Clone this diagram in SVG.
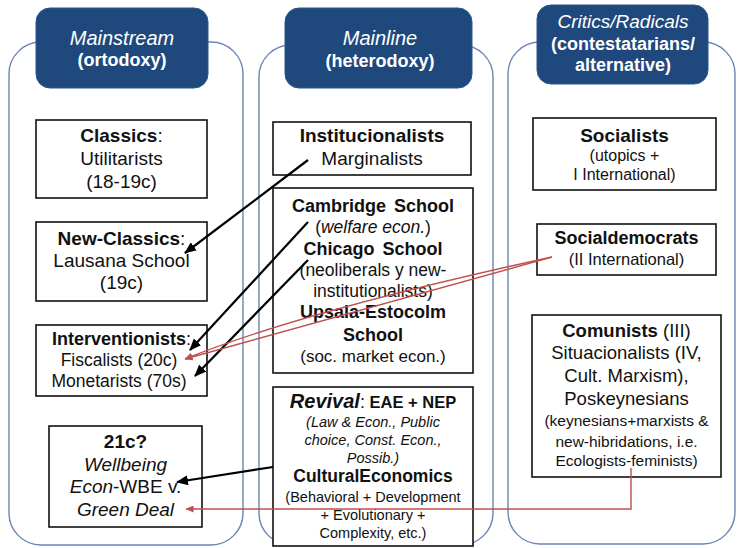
<svg xmlns="http://www.w3.org/2000/svg" width="737" height="548" viewBox="0 0 737 548">
<style>
text{font-family:"Liberation Sans",Arial,sans-serif;fill:#111;text-anchor:middle}
.col{fill:#fff;stroke:#6a86b3;stroke-width:1.4}
.hdr{fill:#1f497d;stroke:#2c5689;stroke-width:1}
.ht{fill:#fff}
.box{fill:#fff;stroke:#111;stroke-width:1.6}
.b{font-weight:bold}
.i{font-style:italic}
.blk{stroke:#000;stroke-width:2.2;fill:none;marker-end:url(#ah)}
.red{stroke:#c0504d;stroke-width:1.4;fill:none;marker-end:url(#ahr)}
</style>
<defs>
<marker id="ah" markerUnits="userSpaceOnUse" viewBox="0 0 12 10" markerWidth="12" markerHeight="10" refX="11" refY="5" orient="auto"><path d="M0,0 L12,5 L0,10 z" fill="#000"/></marker>
<marker id="ahr" markerUnits="userSpaceOnUse" viewBox="0 0 8 7" markerWidth="8" markerHeight="7" refX="7.5" refY="3.5" orient="auto"><path d="M0,0 L8,3.5 L0,7 z" fill="#c0504d"/></marker>
</defs>
<rect width="737" height="548" fill="#fff"/>
<g id="columns">
<rect class="col" x="9" y="42" width="234" height="503" rx="32"/>
<rect class="col" x="259" y="45" width="234" height="500" rx="32"/>
<rect class="col" x="508" y="42" width="227" height="502" rx="32"/>
</g>
<g id="hdr-mainstream">
<rect class="hdr" x="36" y="8" width="172" height="80" rx="14"/>
<text class="ht i" x="122" y="45" font-size="20">Mainstream</text>
<text class="ht b" x="122" y="66" font-size="18">(ortodoxy)</text>
</g>
<g id="hdr-mainline">
<rect class="hdr" x="285" y="8" width="187" height="80" rx="14"/>
<text class="ht i" x="380" y="45" font-size="20">Mainline</text>
<text class="ht b" x="380" y="67" font-size="18">(heterodoxy)</text>
</g>
<g id="hdr-critics">
<rect class="hdr" x="537" y="5" width="171" height="79" rx="14"/>
<text class="ht i" x="623" y="28" font-size="19">Critics/Radicals</text>
<text class="ht b" x="623" y="50" font-size="18">(contestatarians/</text>
<text class="ht b" x="623" y="71" font-size="18">alternative)</text>
</g>
<g id="classics">
<rect class="box" x="36" y="120" width="171" height="78"/>
<text x="121.5" y="142" font-size="19"><tspan class="b">Classics</tspan>:</text>
<text x="121.5" y="165" font-size="19">Utilitarists</text>
<text x="121.5" y="188" font-size="19">(18-19c)</text>
</g>
<g id="newclassics">
<rect class="box" x="36" y="222" width="171" height="79"/>
<text x="121.5" y="245" font-size="19"><tspan class="b">New-Classics</tspan>:</text>
<text x="121.5" y="267" font-size="19">Lausana School</text>
<text x="121.5" y="289" font-size="19">(19c)</text>
</g>
<g id="interventionists">
<rect class="box" x="36" y="325" width="171" height="71"/>
<text x="121.5" y="345" font-size="18"><tspan class="b">Interventionists</tspan>:</text>
<text x="119" y="366" font-size="17.5">Fiscalists (20c)</text>
<text x="119" y="387" font-size="17.5">Monetarists (70s)</text>
</g>
<g id="c21">
<rect class="box" x="49" y="426" width="153" height="101"/>
<text class="b" x="125.5" y="448" font-size="19">21c?</text>
<text class="i" x="125.5" y="471" font-size="19">Wellbeing</text>
<text x="125.5" y="493" font-size="19"><tspan class="i">Econ</tspan>-WBE v.</text>
<text class="i" x="125.5" y="516" font-size="19">Green Deal</text>
</g>
<g id="institucionalists">
<rect class="box" x="273" y="122" width="198" height="53"/>
<text class="b" x="372" y="142" font-size="19">Institucionalists</text>
<text x="372" y="165" font-size="19">Marginalists</text>
</g>
<g id="schools">
<rect class="box" x="273" y="188" width="200" height="185"/>
<text class="b" x="373" y="212" font-size="18" word-spacing="3">Cambridge School</text>
<text x="373" y="233" font-size="17.5">(<tspan class="i">welfare econ.</tspan>)</text>
<text class="b" x="373" y="255" font-size="18" word-spacing="3">Chicago School</text>
<text x="373" y="276" font-size="17.5">(neoliberals y new-</text>
<text x="373" y="297" font-size="17.5">institutionalists)</text>
<text class="b" x="373" y="318" font-size="18">Upsala-Estocolm</text>
<text class="b" x="373" y="341" font-size="18">School</text>
<text x="373" y="362" font-size="17">(soc. market econ.)</text>
</g>
<g id="revival">
<rect class="box" x="273" y="387" width="200" height="159"/>
<text x="373" y="408"><tspan class="b i" font-size="20">Revival</tspan><tspan font-size="18">:</tspan><tspan class="b" font-size="16.5"> EAE + NEP</tspan></text>
<text class="i" x="373" y="427" font-size="14.5">(Law &amp; Econ., Public</text>
<text class="i" x="373" y="445" font-size="14.5">choice, Const. Econ.,</text>
<text class="i" x="373" y="463" font-size="14.5">Possib.)</text>
<text class="b" x="373" y="482" font-size="17.5">CulturalEconomics</text>
<text x="373" y="502" font-size="14.5">(Behavioral + Development</text>
<text x="373" y="520" font-size="14.5">+ Evolutionary +</text>
<text x="373" y="538" font-size="14.5">Complexity, etc.)</text>
</g>
<g id="socialists">
<rect class="box" x="533" y="118" width="183" height="72"/>
<text class="b" x="624.5" y="142" font-size="19">Socialists</text>
<text x="624.5" y="161" font-size="16">(utopics +</text>
<text x="624.5" y="180" font-size="16">I International)</text>
</g>
<g id="socialdemocrats">
<rect class="box" x="537" y="224" width="179" height="51"/>
<text class="b" x="626.5" y="244" font-size="18">Socialdemocrats</text>
<text x="626.5" y="265" font-size="16.5">(II International)</text>
</g>
<g id="comunists">
<rect class="box" x="532" y="315" width="189" height="162"/>
<text x="626.5" y="337" font-size="18.5"><tspan class="b">Comunists</tspan> (III)</text>
<text x="626.5" y="359" font-size="18.5">Situacionalists (IV,</text>
<text x="626.5" y="382" font-size="18.5">Cult. Marxism),</text>
<text x="626.5" y="405" font-size="18.5">Poskeynesians</text>
<text x="626.5" y="426" font-size="15.5">(keynesians+marxists &amp;</text>
<text x="626.5" y="447" font-size="15.5">new-hibridations, i.e.</text>
<text x="626.5" y="466" font-size="15.5">Ecologists-feminists)</text>
</g>
<g id="connectors">
<line class="blk" x1="308" y1="160" x2="185" y2="253"/>
<line class="blk" x1="308" y1="222" x2="190" y2="350"/>
<line class="blk" x1="308" y1="260" x2="195" y2="376"/>
<line class="blk" x1="273" y1="467" x2="177" y2="482"/>
<line class="red" x1="552" y1="257" x2="185" y2="359"/>
<path class="red" d="M552,257 Q300,312 185,359"/>
<polyline class="red" points="631,468 631,509 186,509"/>
</g>
</svg>
